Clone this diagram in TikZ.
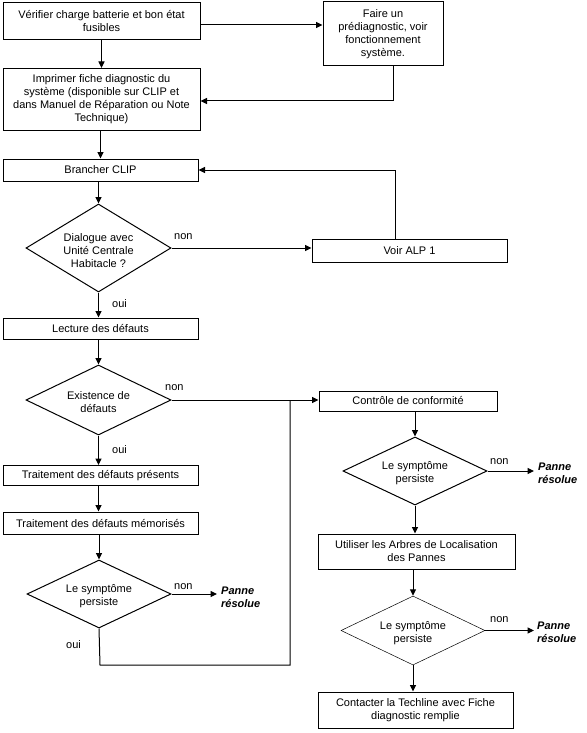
\documentclass[tikz,border=0pt]{standalone}
\usepackage{fontspec}
\setmainfont{Liberation Sans}
\usetikzlibrary{shapes.geometric,arrows.meta}
\tikzset{
  boxnode/.style={draw, line width=1pt, inner sep=0pt, align=center, font=\fontsize{11}{13}\selectfont},
  decision/.style={draw, diamond, line width=1pt, inner sep=0pt},
  dtext/.style={inner sep=0pt, align=center, font=\fontsize{11}{13}\selectfont, yshift=-2.5pt},
  lbl/.style={inner sep=0pt, font=\fontsize{11}{13}\selectfont},
  resolved/.style={inner sep=0pt, align=left, font=\fontsize{11}{13}\selectfont\bfseries\itshape},
  arr/.style={line width=1pt, -{Triangle[length=6.5pt,width=6pt]}},
  ln/.style={line width=1pt}
}
\begin{document}
\begin{tikzpicture}[x=1pt,y=-1pt]
\useasboundingbox (0,0) rectangle (586,733);
% boxes
\node[boxnode, minimum width=197, minimum height=37] (b1) at (101.5,21.5) {Vérifier charge batterie et bon état\\fusibles};
\node[boxnode, minimum width=120, minimum height=64] (b2) at (383,34) {Faire un\\prédiagnostic, voir\\fonctionnement\\système.};
\node[boxnode, minimum width=197, minimum height=62] (b3) at (101.5,99.5) {Imprimer fiche diagnostic du\\système (disponible sur CLIP et\\dans Manuel de Réparation ou Note\\Technique)};
\node[boxnode, minimum width=195, minimum height=22] (b4) at (100.5,170) {Brancher CLIP};
\node[decision, minimum width=145, minimum height=88, label={[dtext]center:Dialogue avec\\Unité Centrale\\Habitacle ?}] (d1) at (98.5,248) {};
\node[boxnode, minimum width=195, minimum height=23] (alp) at (409.5,250.5) {Voir ALP 1};
\node[boxnode, minimum width=195, minimum height=21] (b5) at (100.5,328.5) {Lecture des défauts};
\node[decision, minimum width=145, minimum height=70, label={[dtext]center:Existence de\\défauts}] (d2) at (98.5,400) {};
\node[boxnode, minimum width=195, minimum height=20] (b6) at (100.5,475.5) {Traitement des défauts présents};
\node[boxnode, minimum width=195, minimum height=22] (b7) at (100.5,523) {Traitement des défauts mémorisés};
\node[decision, minimum width=144, minimum height=68, label={[dtext]center:Le symptôme\\persiste}] (d3) at (99,594) {};
\node[boxnode, minimum width=178, minimum height=20] (ctl) at (408,401) {Contrôle de conformité};
\node[decision, minimum width=144, minimum height=68, label={[dtext]center:Le symptôme\\persiste}] (d4) at (415,471) {};
\node[boxnode, minimum width=197, minimum height=35] (util) at (416.5,551.5) {Utiliser les Arbres de Localisation\\des Pannes};
\node[decision, line width=0.5pt, minimum width=144, minimum height=69, label={[dtext]center:Le symptôme\\persiste}] (d5) at (413,630.5) {};
\node[boxnode, minimum width=195, minimum height=36] (tech) at (415.5,710) {Contacter la Techline avec Fiche\\diagnostic remplie};
% labels
\node[lbl, anchor=west] (n1) at (174,237) {non};
\node[lbl, anchor=west] (o1) at (112,304) {oui};
\node[lbl, anchor=west] (n2) at (165,388) {non};
\node[lbl, anchor=west] (o2) at (112,450) {oui};
\node[lbl, anchor=west] (n3) at (174,587) {non};
\node[lbl, anchor=west] (o3) at (66,645) {oui};
\node[lbl, anchor=west] (n4) at (490,462) {non};
\node[lbl, anchor=west] (n5) at (490,620) {non};
\node[resolved, anchor=west] (p3) at (221,597) {Panne\\résolue};
\node[resolved, anchor=west] (p4) at (538,473) {Panne\\résolue};
\node[resolved, anchor=west] (p5) at (537,632) {Panne\\résolue};
% coordinates
\coordinate (c2) at (393,101);
\coordinate (c4) at (395,170);
\coordinate (j1) at (290,401);
\coordinate (k1) at (100,665);
\coordinate (k2) at (290,665);
% connectors
\draw[arr] (b1.east |- 0,25) -- (b2.west |- 0,25);
\draw[arr] (b1.south) -- (b3.north);
\draw[ln] (b2.south -| c2) -- (c2);
\draw[arr] (c2) -- (b3.east |- c2);
\draw[arr] (b3.south -| b4.north) -- (b4.north);
\draw[arr] (b4.south -| d1.north) -- (d1.north);
\draw[arr] (d1.east) -- (alp.west |- d1.east);
\draw[ln] (alp.north -| c4) -- (c4);
\draw[arr] (c4) -- (b4.east);
\draw[arr] (d1.south) -- (b5.north -| d1.south);
\draw[arr] (b5.south -| d2.north) -- (d2.north);
\draw[arr] (d2.east) -- (ctl.west |- d2.east);
\draw[arr] (d2.south) -- (b6.north -| d2.south);
\draw[arr] (b6.south -| d2.south) -- (b7.north -| d2.south);
\draw[arr] (b7.south -| d3.north) -- (d3.north);
\draw[arr] (d3.east) -- ([xshift=-4pt]p3.west |- d3.east);
\draw[ln] (d3.south) -- (k1) -- (k2) -- (j1);
\draw[arr] (ctl.south -| d4.north) -- (d4.north);
\draw[arr] (d4.east) -- ([xshift=-4pt]p4.west |- d4.east);
\draw[arr] (d4.south) -- (util.north -| d4.south);
\draw[arr] (util.south -| d5.north) -- (d5.north);
\draw[arr] (d5.east) -- ([xshift=-3pt]p5.west |- d5.east);
\draw[arr] (d5.south) -- (tech.north -| d5.south);
\end{tikzpicture}
\end{document}
